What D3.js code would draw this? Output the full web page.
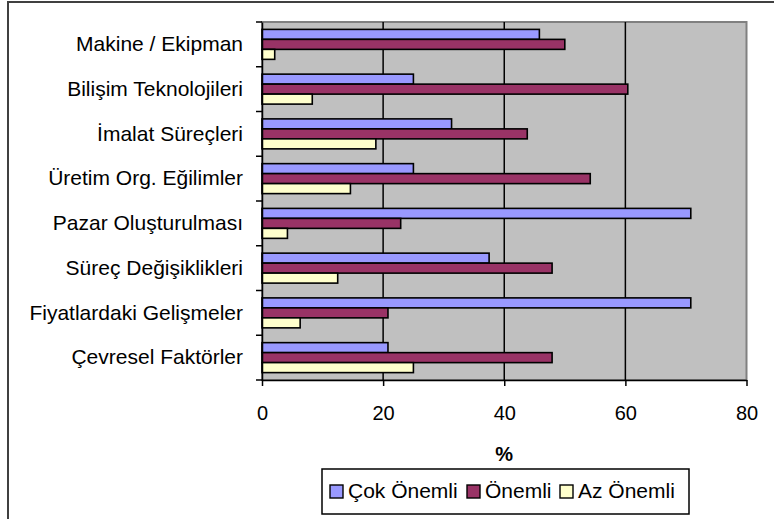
<!DOCTYPE html>
<html>
<head>
<meta charset="utf-8">
<script src="https://cdn.jsdelivr.net/npm/d3@7"></script>
<style>
  html, body { margin: 0; padding: 0; background: #fff; }
  svg { display: block; font-family: "Liberation Sans", Arial, sans-serif; }
</style>
</head>
<body>
<div id="app"></div>
<script>
const categories = [
  "Makine / Ekipman",
  "Bilişim Teknolojileri",
  "İmalat Süreçleri",
  "Üretim Org. Eğilimler",
  "Pazar Oluşturulması",
  "Süreç Değişiklikleri",
  "Fiyatlardaki Gelişmeler",
  "Çevresel Faktörler"
];
const seriesNames = ["Çok Önemli", "Önemli", "Az Önemli"];
const cokOnemli = [45.8, 25, 31.3, 25, 70.8, 37.5, 70.8, 20.8];
const onemli = [50, 60.4, 43.8, 54.2, 22.9, 47.9, 20.8, 47.9];
const azOnemli = [2.1, 8.3, 18.8, 14.6, 4.2, 12.5, 6.3, 25];
const xTicks = [0, 20, 40, 60, 80];
const colors = ["#9999FF", "#993366", "#FFFFCC"];

const values = [cokOnemli, onemli, azOnemli];
const rows = categories.map((c, i) => ({
  cat: c,
  vals: seriesNames.map((s, j) => ({ key: s, value: values[j][i] }))
}));

const width = 774;
const height = 519;
const plot = { left: 262, right: 746.5, top: 22, bottom: 380 };

const svg = d3
  .select("#app")
  .append("svg")
  .attr("width", width)
  .attr("height", height);

// outer chart frame (only left and top edges are visible)
svg
  .append("rect")
  .attr("x", 8)
  .attr("y", 2)
  .attr("width", 900)
  .attr("height", 700)
  .attr("fill", "#fff")
  .attr("stroke", "#404040")
  .attr("stroke-width", 2);

const x = d3.scaleLinear().domain([0, 80]).range([plot.left, plot.right]);

const y0 = d3
  .scaleBand()
  .domain(categories)
  .range([plot.top, plot.bottom]);

const y1 = d3
  .scaleBand()
  .domain(seriesNames)
  .range([0, y0.bandwidth()])
  .paddingOuter(0.74);

const color = d3.scaleOrdinal().domain(seriesNames).range(colors);

// plot area
svg
  .append("rect")
  .attr("x", plot.left)
  .attr("y", plot.top)
  .attr("width", plot.right - plot.left)
  .attr("height", plot.bottom - plot.top)
  .attr("fill", "#C0C0C0")
  .attr("stroke", "#808080")
  .attr("stroke-width", 2);

// gridlines
svg
  .append("g")
  .selectAll("line")
  .data(xTicks.slice(1, -1))
  .enter()
  .append("line")
  .attr("x1", d => x(d))
  .attr("x2", d => x(d))
  .attr("y1", plot.top)
  .attr("y2", plot.bottom)
  .attr("stroke", "#000")
  .attr("stroke-width", 1.5);

// bars
svg
  .append("g")
  .selectAll("g")
  .data(rows)
  .enter()
  .append("g")
  .attr("transform", d => `translate(0, ${y0(d.cat)})`)
  .selectAll("rect")
  .data(d => d.vals)
  .enter()
  .append("rect")
  .attr("x", x(0))
  .attr("y", d => y1(d.key))
  .attr("width", d => x(d.value) - x(0))
  .attr("height", y1.bandwidth())
  .attr("fill", d => color(d.key))
  .attr("stroke", "#000")
  .attr("stroke-width", 1.6);

// x axis
const xAxis = svg
  .append("g")
  .attr("transform", `translate(0, ${plot.bottom})`)
  .call(
    d3.axisBottom(x).tickValues(xTicks).tickSize(6).tickPadding(20).tickSizeOuter(0)
  );
xAxis.select(".domain").attr("stroke", "#000").attr("stroke-width", 1.5);
xAxis.selectAll(".tick line").attr("stroke", "#000").attr("stroke-width", 1.5);
xAxis
  .selectAll("text")
  .attr("fill", "#000")
  .style("font-size", "20px")
  .style("font-family", "'Liberation Sans', Arial, sans-serif");

// y axis labels
const yAxis = svg
  .append("g")
  .attr("transform", `translate(${plot.left}, 0)`)
  .call(d3.axisLeft(y0).tickSize(0).tickPadding(19).tickSizeOuter(0));
yAxis.select(".domain").attr("stroke", "#000").attr("stroke-width", 1.5);
yAxis
  .selectAll("text")
  .attr("fill", "#000")
  .style("font-size", "21px")
  .style("font-family", "'Liberation Sans', Arial, sans-serif");

// y ticks sit at category boundaries
const bounds = categories.map(c => y0(c)).concat([plot.bottom]);
yAxis
  .selectAll(".bound")
  .data(bounds)
  .enter()
  .append("line")
  .attr("class", "bound")
  .attr("x1", -6)
  .attr("x2", 0)
  .attr("y1", d => d)
  .attr("y2", d => d)
  .attr("stroke", "#000")
  .attr("stroke-width", 1.5);

// axis title
svg
  .append("text")
  .attr("x", (plot.left + plot.right) / 2)
  .attr("y", 461)
  .attr("text-anchor", "middle")
  .style("font-size", "20px")
  .style("font-weight", "bold")
  .text("%");

// legend
const legend = svg.append("g");
legend
  .append("rect")
  .attr("x", 322)
  .attr("y", 469)
  .attr("width", 367)
  .attr("height", 45)
  .attr("fill", "#fff")
  .attr("stroke", "#000")
  .attr("stroke-width", 1.5);

const legendX = [330, 467, 560];
const item = legend
  .selectAll(".item")
  .data(seriesNames)
  .enter()
  .append("g")
  .attr("class", "item")
  .attr("transform", (d, i) => `translate(${legendX[i]}, 485)`);

item
  .append("rect")
  .attr("width", 13)
  .attr("height", 13)
  .attr("fill", d => color(d))
  .attr("stroke", "#000")
  .attr("stroke-width", 1.4);

item
  .append("text")
  .attr("x", 18)
  .attr("y", 13)
  .style("font-size", "21px")
  .text(d => d);
</script>
</body>
</html>
